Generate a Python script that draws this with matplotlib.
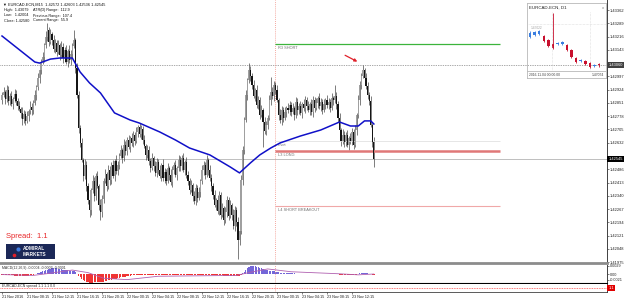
import numpy as np
import matplotlib
matplotlib.use('Agg')
import matplotlib.pyplot as plt

plt.rcParams['font.family'] = ['Liberation Sans', 'DejaVu Sans']

W, H = 625, 302


def rect(x0, y0, x1, y1):
    # pixel box -> figure fraction
    return [x0 / W, 1 - y1 / H, (x1 - x0) / W, (y1 - y0) / H]


# EURCAD-ECN M15 bars, 21 Nov 04:15 -> 23 Nov 15:45
open_ = [
    1.42867, 1.42895, 1.42911, 1.42873, 1.42922, 1.42862, 1.42889, 1.42845, 1.42873, 1.42900,
    1.42862, 1.42834, 1.42818, 1.42796, 1.42763, 1.42790, 1.42752, 1.42779, 1.42807, 1.42829,
    1.42812, 1.42851, 1.42895, 1.42939, 1.42988, 1.43032, 1.43076, 1.43104, 1.43170, 1.43214,
    1.43252, 1.43186, 1.43230, 1.43197, 1.43148, 1.43181, 1.43131, 1.43170, 1.43115, 1.43159,
    1.43098, 1.43142, 1.43076, 1.43137, 1.43087, 1.43120, 1.43164, 1.43197, 1.43043, 1.42895,
    1.42713, 1.42631, 1.42537, 1.42449, 1.42510, 1.42394, 1.42317, 1.42262, 1.42372, 1.42422,
    1.42339, 1.42449, 1.42394, 1.42290, 1.42251, 1.42323, 1.42422, 1.42460, 1.42394, 1.42482,
    1.42427, 1.42510, 1.42449, 1.42532, 1.42477, 1.42510, 1.42559, 1.42592, 1.42548, 1.42620,
    1.42587, 1.42647, 1.42609, 1.42658, 1.42631, 1.42675, 1.42642, 1.42691, 1.42719, 1.42680,
    1.42708, 1.42647, 1.42614, 1.42565, 1.42592, 1.42532, 1.42493, 1.42548, 1.42504, 1.42466,
    1.42526, 1.42482, 1.42449, 1.42510, 1.42438, 1.42471, 1.42422, 1.42493, 1.42455, 1.42416,
    1.42482, 1.42510, 1.42455, 1.42493, 1.42537, 1.42504, 1.42548, 1.42482, 1.42526, 1.42455,
    1.42422, 1.42372, 1.42400, 1.42339, 1.42312, 1.42383, 1.42328, 1.42361, 1.42422, 1.42482,
    1.42510, 1.42455, 1.42537, 1.42482, 1.42438, 1.42394, 1.42345, 1.42290, 1.42317, 1.42257,
    1.42345, 1.42235, 1.42273, 1.42207, 1.42251, 1.42317, 1.42229, 1.42290, 1.42235, 1.42174,
    1.42262, 1.42196, 1.42097, 1.42147, 1.42427, 1.42592, 1.42757, 1.42895, 1.42977, 1.43032,
    1.42999, 1.42950, 1.42889, 1.42922, 1.42840, 1.42867, 1.42785, 1.42812, 1.42746, 1.42697,
    1.42730, 1.42768, 1.42867, 1.42911, 1.42889, 1.42950, 1.42922, 1.42867, 1.42785, 1.42757,
    1.42812, 1.42768, 1.42801, 1.42823, 1.42812, 1.42840, 1.42801, 1.42823, 1.42785, 1.42856,
    1.42812, 1.42834, 1.42796, 1.42845, 1.42823, 1.42867, 1.42834, 1.42812, 1.42845, 1.42801,
    1.42867, 1.42823, 1.42851, 1.42878, 1.42834, 1.42856, 1.42812, 1.42845, 1.42867, 1.42840,
    1.42856, 1.42823, 1.42878, 1.42867, 1.42889, 1.42845, 1.42768, 1.42702, 1.42642, 1.42675,
    1.42636, 1.42675, 1.42620, 1.42658, 1.42642, 1.42691, 1.42620, 1.42702, 1.42785, 1.42867,
    1.42950, 1.42999, 1.43032, 1.42988, 1.42944, 1.42895, 1.42862, 1.42730, 1.42636]

high = [
    1.42910, 1.42936, 1.42921, 1.42952, 1.42942, 1.42904, 1.42914, 1.42883, 1.42930, 1.42920,
    1.42877, 1.42859, 1.42828, 1.42826, 1.42810, 1.42805, 1.42804, 1.42817, 1.42859, 1.42849,
    1.42866, 1.42920, 1.42949, 1.43018, 1.43052, 1.43091, 1.43129, 1.43180, 1.43244, 1.43290,
    1.43267, 1.43255, 1.43240, 1.43227, 1.43201, 1.43196, 1.43195, 1.43180, 1.43189, 1.43179,
    1.43157, 1.43167, 1.43147, 1.43167, 1.43140, 1.43179, 1.43252, 1.43207, 1.43073, 1.42915,
    1.42728, 1.42656, 1.42547, 1.42540, 1.42530, 1.42409, 1.42342, 1.42382, 1.42452, 1.42442,
    1.42464, 1.42474, 1.42404, 1.42320, 1.42343, 1.42437, 1.42485, 1.42470, 1.42512, 1.42502,
    1.42525, 1.42535, 1.42542, 1.42562, 1.42530, 1.42574, 1.42617, 1.42602, 1.42650, 1.42640,
    1.42662, 1.42672, 1.42668, 1.42688, 1.42695, 1.42690, 1.42716, 1.42729, 1.42740, 1.42728,
    1.42723, 1.42672, 1.42624, 1.42622, 1.42612, 1.42547, 1.42573, 1.42558, 1.42534, 1.42546,
    1.42541, 1.42507, 1.42520, 1.42540, 1.42491, 1.42486, 1.42518, 1.42503, 1.42485, 1.42502,
    1.42525, 1.42535, 1.42503, 1.42567, 1.42557, 1.42563, 1.42573, 1.42536, 1.42556, 1.42475,
    1.42437, 1.42425, 1.42410, 1.42369, 1.42403, 1.42398, 1.42386, 1.42432, 1.42512, 1.42530,
    1.42525, 1.42562, 1.42547, 1.42512, 1.42458, 1.42409, 1.42370, 1.42327, 1.42347, 1.42365,
    1.42360, 1.42298, 1.42283, 1.42281, 1.42337, 1.42332, 1.42315, 1.42300, 1.42265, 1.42282,
    1.42277, 1.42221, 1.42157, 1.42457, 1.42612, 1.42772, 1.42920, 1.42987, 1.43070, 1.43052,
    1.43014, 1.42975, 1.42932, 1.42952, 1.42887, 1.42882, 1.42837, 1.42822, 1.42776, 1.42750,
    1.42783, 1.42892, 1.42994, 1.42941, 1.42970, 1.42965, 1.42947, 1.42877, 1.42815, 1.42832,
    1.42827, 1.42826, 1.42833, 1.42853, 1.42860, 1.42855, 1.42848, 1.42833, 1.42886, 1.42876,
    1.42849, 1.42859, 1.42855, 1.42875, 1.42887, 1.42882, 1.42859, 1.42855, 1.42875, 1.42887,
    1.42882, 1.42876, 1.42888, 1.42908, 1.42876, 1.42871, 1.42870, 1.42877, 1.42897, 1.42876,
    1.42871, 1.42903, 1.42888, 1.42950, 1.42909, 1.42860, 1.42793, 1.42712, 1.42705, 1.42695,
    1.42690, 1.42700, 1.42668, 1.42688, 1.42711, 1.42706, 1.42727, 1.42795, 1.42897, 1.42970,
    1.43014, 1.43060, 1.43042, 1.43018, 1.42964, 1.42910, 1.42887, 1.42740, 1.42666]

low = [
    1.42847, 1.42885, 1.42843, 1.42858, 1.42837, 1.42842, 1.42835, 1.42815, 1.42858, 1.42837,
    1.42814, 1.42808, 1.42766, 1.42730, 1.42738, 1.42732, 1.42742, 1.42749, 1.42792, 1.42787,
    1.42792, 1.42841, 1.42865, 1.42924, 1.42963, 1.43012, 1.43066, 1.43074, 1.43155, 1.43194,
    1.43166, 1.43176, 1.43167, 1.43133, 1.43123, 1.43111, 1.43121, 1.43085, 1.43100, 1.43073,
    1.43078, 1.43066, 1.43046, 1.43072, 1.43062, 1.43100, 1.43154, 1.43013, 1.42880, 1.42688,
    1.42611, 1.42527, 1.42419, 1.42434, 1.42369, 1.42297, 1.42224, 1.42232, 1.42357, 1.42314,
    1.42319, 1.42384, 1.42260, 1.42207, 1.42226, 1.42303, 1.42412, 1.42364, 1.42379, 1.42402,
    1.42407, 1.42439, 1.42419, 1.42462, 1.42452, 1.42490, 1.42549, 1.42518, 1.42533, 1.42562,
    1.42567, 1.42599, 1.42579, 1.42616, 1.42606, 1.42622, 1.42632, 1.42661, 1.42665, 1.42655,
    1.42627, 1.42604, 1.42535, 1.42550, 1.42507, 1.42473, 1.42483, 1.42474, 1.42451, 1.42441,
    1.42462, 1.42439, 1.42419, 1.42423, 1.42413, 1.42402, 1.42412, 1.42425, 1.42401, 1.42391,
    1.42462, 1.42445, 1.42425, 1.42478, 1.42479, 1.42484, 1.42472, 1.42452, 1.42440, 1.42397,
    1.42352, 1.42362, 1.42309, 1.42297, 1.42287, 1.42308, 1.42318, 1.42331, 1.42407, 1.42457,
    1.42435, 1.42445, 1.42452, 1.42423, 1.42369, 1.42325, 1.42280, 1.42260, 1.42242, 1.42232,
    1.42215, 1.42225, 1.42177, 1.42192, 1.42226, 1.42209, 1.42219, 1.42205, 1.42159, 1.42149,
    1.42176, 1.41994, 1.42067, 1.42132, 1.42402, 1.42572, 1.42747, 1.42865, 1.42962, 1.42974,
    1.42930, 1.42879, 1.42859, 1.42825, 1.42815, 1.42765, 1.42775, 1.42609, 1.42682, 1.42672,
    1.42710, 1.42758, 1.42837, 1.42874, 1.42864, 1.42902, 1.42857, 1.42755, 1.42742, 1.42732,
    1.42748, 1.42758, 1.42771, 1.42797, 1.42787, 1.42781, 1.42791, 1.42755, 1.42770, 1.42787,
    1.42792, 1.42786, 1.42766, 1.42808, 1.42798, 1.42814, 1.42802, 1.42782, 1.42786, 1.42776,
    1.42803, 1.42813, 1.42821, 1.42819, 1.42809, 1.42792, 1.42802, 1.42815, 1.42825, 1.42815,
    1.42803, 1.42813, 1.42837, 1.42852, 1.42820, 1.42748, 1.42692, 1.42612, 1.42627, 1.42611,
    1.42616, 1.42610, 1.42590, 1.42627, 1.42617, 1.42600, 1.42610, 1.42672, 1.42770, 1.42842,
    1.42930, 1.42989, 1.42958, 1.42929, 1.42870, 1.42842, 1.42720, 1.42606, 1.42498]

close = [
    1.42895, 1.42911, 1.42873, 1.42922, 1.42862, 1.42889, 1.42845, 1.42873, 1.42900, 1.42862,
    1.42834, 1.42818, 1.42796, 1.42763, 1.42790, 1.42752, 1.42779, 1.42807, 1.42829, 1.42812,
    1.42851, 1.42895, 1.42939, 1.42988, 1.43032, 1.43076, 1.43104, 1.43170, 1.43214, 1.43252,
    1.43186, 1.43230, 1.43197, 1.43148, 1.43181, 1.43131, 1.43170, 1.43115, 1.43159, 1.43098,
    1.43142, 1.43076, 1.43137, 1.43087, 1.43120, 1.43164, 1.43197, 1.43043, 1.42895, 1.42713,
    1.42631, 1.42537, 1.42449, 1.42510, 1.42394, 1.42317, 1.42262, 1.42372, 1.42422, 1.42339,
    1.42449, 1.42394, 1.42290, 1.42251, 1.42323, 1.42422, 1.42460, 1.42394, 1.42482, 1.42427,
    1.42510, 1.42449, 1.42532, 1.42477, 1.42510, 1.42559, 1.42592, 1.42548, 1.42620, 1.42587,
    1.42647, 1.42609, 1.42658, 1.42631, 1.42675, 1.42642, 1.42691, 1.42719, 1.42680, 1.42708,
    1.42647, 1.42614, 1.42565, 1.42592, 1.42532, 1.42493, 1.42548, 1.42504, 1.42466, 1.42526,
    1.42482, 1.42449, 1.42510, 1.42438, 1.42471, 1.42422, 1.42493, 1.42455, 1.42416, 1.42482,
    1.42510, 1.42455, 1.42493, 1.42537, 1.42504, 1.42548, 1.42482, 1.42526, 1.42455, 1.42422,
    1.42372, 1.42400, 1.42339, 1.42312, 1.42383, 1.42328, 1.42361, 1.42422, 1.42482, 1.42510,
    1.42455, 1.42537, 1.42482, 1.42438, 1.42394, 1.42345, 1.42290, 1.42317, 1.42257, 1.42345,
    1.42235, 1.42273, 1.42207, 1.42251, 1.42317, 1.42229, 1.42290, 1.42235, 1.42174, 1.42262,
    1.42196, 1.42097, 1.42147, 1.42427, 1.42592, 1.42757, 1.42895, 1.42977, 1.43032, 1.42999,
    1.42950, 1.42889, 1.42922, 1.42840, 1.42867, 1.42785, 1.42812, 1.42746, 1.42697, 1.42730,
    1.42768, 1.42867, 1.42911, 1.42889, 1.42950, 1.42922, 1.42867, 1.42785, 1.42757, 1.42812,
    1.42768, 1.42801, 1.42823, 1.42812, 1.42840, 1.42801, 1.42823, 1.42785, 1.42856, 1.42812,
    1.42834, 1.42796, 1.42845, 1.42823, 1.42867, 1.42834, 1.42812, 1.42845, 1.42801, 1.42867,
    1.42823, 1.42851, 1.42878, 1.42834, 1.42856, 1.42812, 1.42845, 1.42867, 1.42840, 1.42856,
    1.42823, 1.42878, 1.42867, 1.42889, 1.42845, 1.42768, 1.42702, 1.42642, 1.42675, 1.42636,
    1.42675, 1.42620, 1.42658, 1.42642, 1.42691, 1.42620, 1.42702, 1.42785, 1.42867, 1.42950,
    1.42999, 1.43032, 1.42988, 1.42944, 1.42895, 1.42862, 1.42730, 1.42636, 1.42545]

# moving average (read at a few bars)
ma_bar = [0, 21, 24, 31, 37, 45, 50, 56, 63, 72, 82, 88, 101, 111, 120, 133, 146, 152,
          159, 165, 172, 178, 191, 204, 216, 223, 228, 232, 236, 238]
ma_val = [1.43219, 1.43076, 1.43070, 1.43092, 1.43098, 1.43098, 1.43021, 1.42961, 1.42906,
          1.42796, 1.42757, 1.42740, 1.42691, 1.42647, 1.42603, 1.42565, 1.42499, 1.42466,
          1.42521, 1.42565, 1.42603, 1.42631, 1.42669, 1.42702, 1.42746, 1.42724, 1.42724,
          1.42752, 1.42752, 1.42735]

# MACD histogram, units of 0.0001
macd_hist = [
    -3, -3, -4, -4, -4, -5, -5, -5, -6, -6, -6, -7, -7, -7, -7, -7, -6, -6, -5, -4, -3,
    -1, 1, 3, 5, 8, 10, 12, 14, 16, 18,
    19, 20, 21, 20, 20, 19, 18, 17, 16, 15, 14, 13, 12, 11, 11,
    10, 6, 0, -6, -12,
    -18, -22, -25, -28, -30, -32, -32, -31, -30, -30, -29, -30,
    -30, -29, -27, -26, -25, -23, -22, -20, -19, -18, -16, -15, -13,
    -12, -11, -10, -9, -8, -7, -6, -5, -4, -4, -3, -3, -2, -2, -2, -3, -3, -3, -4, -4,
    -4, -4, -5, -5, -5,
    -5, -5, -5, -5, -5, -5, -5, -4, -4, -4,
    -4, -4, -4, -3, -3, -3, -3, -3, -3, -4,
    -4, -4, -4, -5, -5, -5, -4, -4, -4, -4,
    -3, -3, -3, -3, -4, -4, -4, -5, -5, -5,
    -5, -6, -6, -6, -6, -7, -7, -7, -7, -7,
    -8, -8,
    -4, 2, 8, 14, 20, 24, 27, 28,
    28, 27, 26, 24, 22, 20, 18, 16, 14, 13,
    12, 11, 10, 9, 8, 7, 6, 5, 4, 4,
    3, 3, 3, 2, 2, 2, 2, 1, 1, 1,
    1, 1, 1, 1, 1, 1, 1, 1, 1, 1,
    1, 1, 1, 0, 0, 0, 0, 0, 0, 0,
    1, 1, 1, 1,
    -1, -2, -3, -4, -4, -5, -5, -5, -5, -5, -4, -4,
    -2, 0, 2, 3, 4, 4, 3, 2, 1,
    -1, -3, -5]
sig_bar = [0, 20, 30, 45, 55, 65, 80, 100, 150, 158, 170, 185, 215, 228, 238]
sig_val = [-2, -5, 2, 14, 5, -15, -20, -8, -5, 5, 18, 8, 1, -3, 0]

# D1 inset candles
d1_open = [1.4675, 1.4705, 1.4720, 1.4690, 1.4630, 1.4570, 1.4570, 1.4570,
           1.4555, 1.4480, 1.4360, 1.4315, 1.4315, 1.4285, 1.4240, 1.4270]
d1_high = [1.4765, 1.4765, 1.4780, 1.4705, 1.4645, 1.5035, 1.4600, 1.4615,
           1.4570, 1.4495, 1.4375, 1.4345, 1.4330, 1.4300, 1.4270, 1.4285]
d1_low = [1.4660, 1.4690, 1.4705, 1.4600, 1.4525, 1.4495, 1.4555, 1.4555,
          1.4465, 1.4360, 1.4285, 1.4300, 1.4255, 1.4210, 1.4225, 1.4220]
d1_close = [1.4735, 1.4750, 1.4765, 1.4615, 1.4540, 1.4510, 1.4585, 1.4600,
            1.4480, 1.4375, 1.4300, 1.4330, 1.4270, 1.4225, 1.4255, 1.4250]

# levels drawn on the chart
r3_short = 1.43175
day_line = 1.43060
pivot = 1.42642
l3_long = 1.42587
bid = 1.42545
l4_breakout = 1.42284
level_start, level_end = 175, 319
day_sep = 175
spread = 1.1

price_ticks = [1.41975, 1.42048, 1.42121, 1.42194, 1.42267, 1.42340, 1.42413, 1.42486,
               1.42632, 1.42705, 1.42778, 1.42851, 1.42924, 1.42997, 1.43143, 1.43216,
               1.43289, 1.43362]
date_bars = [0, 16, 32, 48, 64, 80, 96, 112, 128, 144, 160, 176, 192, 208, 224]
date_labels = ['21 Nov 2016', '21 Nov 08:15', '21 Nov 12:15', '21 Nov 16:15', '21 Nov 20:15',
               '22 Nov 00:15', '22 Nov 04:15', '22 Nov 08:15', '22 Nov 12:15', '22 Nov 16:15',
               '22 Nov 20:15', '23 Nov 00:15', '23 Nov 04:15', '23 Nov 08:15', '23 Nov 12:15']

o = np.array(open_)
c = np.array(close)
idx = np.arange(len(c))
XLIM = (-1.28, 387.2)

fig = plt.figure(figsize=(6.25, 3.02), dpi=100)
fig.patch.set_facecolor('white')

# ---- main price window
ax = fig.add_axes(rect(0, 0, 607, 263))
ax.set_xlim(*XLIM)
ax.set_ylim(1.419705, 1.43417)
for s in ['top', 'left']:
    ax.spines[s].set_visible(False)
ax.spines['bottom'].set_color('#8c8c8c')
ax.spines['bottom'].set_linewidth(2)
ax.spines['right'].set_color('#404040')
ax.spines['right'].set_linewidth(0.7)
ax.tick_params(axis='x', bottom=False, labelbottom=False)
ax.yaxis.tick_right()
ax.set_yticks(price_ticks)
ax.set_yticklabels(['%.5f' % p for p in price_ticks])
ax.tick_params(axis='y', labelsize=2.9, length=1.5, width=0.4, pad=0.8, colors='#202020')

bull = c >= o
ax.vlines(idx, low, high, color='#4a4a4a', lw=0.5, zorder=2)
ax.bar(idx[bull], (c - o)[bull], bottom=o[bull], width=0.75, color='#a0a0a0', zorder=3)
ax.bar(idx[~bull], (o - c)[~bull], bottom=c[~bull], width=0.75, color='#151515', zorder=3)
ax.plot(ma_bar, ma_val, color='#1010c8', lw=1.1, zorder=4)

ax.axhline(day_line, color='#555555', lw=0.5, ls=(0, (1, 1.5)), zorder=1)
ax.axhline(bid, color='#b4b4b4', lw=0.6, zorder=1)
ax.axvline(day_sep, color='#f08c80', lw=0.6, ls=(0, (1, 1.5)), zorder=1)
ax.hlines(r3_short, level_start, level_end, color='#3cb43c', lw=0.9)
ax.hlines(pivot, level_start, level_end, color='#dcdcdc', lw=0.5)
ax.hlines(l3_long, level_start, level_end, color='#e07878', lw=1.8)
ax.hlines(l4_breakout, level_start, level_end, color='#f0a8a8', lw=0.8)
for name, lv in [('R3 SHORT', r3_short), ('Pivot', pivot), ('L3 LONG', l3_long),
                 ('L4 SHORT BREAKOUT', l4_breakout)]:
    ax.annotate(name, (level_start, lv), xytext=(1.5, -1.2), textcoords='offset points',
                va='top', ha='left', fontsize=2.8, color='#707070')

ax.annotate('', xy=(229, 1.43071), xytext=(218, 1.43120),
            arrowprops=dict(arrowstyle='-|>', color='#e0202a', lw=0.9, mutation_scale=4))

ytr = ax.get_yaxis_transform()
ax.text(1.002, bid, '%.5f' % bid, transform=ytr, fontsize=2.9, color='white',
        va='center', ha='left', bbox=dict(boxstyle='square,pad=0.25', fc='black', ec='none'))
ax.text(1.002, day_line, '%.5f' % day_line, transform=ytr, fontsize=2.9, color='white',
        va='center', ha='left', bbox=dict(boxstyle='square,pad=0.25', fc='#404040', ec='none'))

fig.text(3 / W, 1 - 5 / H, '\u25bc EURCAD-ECN,M15  1.42572 1.42603 1.42536 1.42545',
         fontsize=2.8, va='center', color='#101010')
for k, (a, b) in enumerate([('High:  1.43079', 'ATR(D) Range:  112.9'),
                            ('Low:   1.42004', 'Previous Range:  107.4'),
                            ('Close: 1.42580', 'Current Range:  55.9')]):
    yy = 1 - (10.5 + 5 * k) / H
    fig.text(4 / W, yy, a, fontsize=2.7, va='center', color='#101010')
    fig.text(33 / W, yy, b, fontsize=2.7, va='center', color='#101010')

fig.text(6 / W, 1 - 236.5 / H, 'Spread:  1.1', fontsize=5.5, color='#e8282a', va='center')

# logo
lg = fig.add_axes(rect(6, 244, 55, 259))
lg.set_facecolor('#1b2857')
lg.set_xlim(0, 49)
lg.set_ylim(15, 0)
lg.set_xticks([])
lg.set_yticks([])
for s in lg.spines.values():
    s.set_visible(False)
lg.scatter([12], [5], s=9, color='#3d7be0', lw=0)
lg.scatter([8.5], [10.5], s=7, color='#e0202a', lw=0)
lg.text(17, 4.8, 'ADMIRAL', fontsize=3.4, color='white', weight='bold', va='center')
lg.text(17, 10.6, 'MARKETS', fontsize=3.4, color='white', weight='bold', va='center')

# ---- MACD window
am = fig.add_axes(rect(0, 265, 607, 283))
am.set_xlim(*XLIM)
am.set_ylim(-0.0032, 0.0032)
hist = np.array(macd_hist) * 1e-4
am.bar(idx, hist, width=0.8, color=np.where(hist >= 0, '#7466d8', '#f03434'))
am.plot(sig_bar, np.array(sig_val) * 1e-4, color='#b060b0', lw=0.6)
am.axvline(day_sep, color='#f08c80', lw=0.6, ls=(0, (1, 1.5)))
for s in ['top', 'left']:
    am.spines[s].set_visible(False)
am.spines['bottom'].set_color('black')
am.spines['bottom'].set_linewidth(0.8)
am.spines['right'].set_color('#404040')
am.spines['right'].set_linewidth(0.7)
am.tick_params(axis='x', bottom=False, labelbottom=False)
am.yaxis.tick_right()
am.set_yticks([0.0029, 0.0, -0.0021])
am.set_yticklabels(['0.0029', '0.00', '-0.0021'])
am.tick_params(axis='y', labelsize=2.7, length=1.5, width=0.4, pad=0.8, colors='#202020')
am.text(0.004, 0.93, 'MACD(12,26,9) -0.0004 -0.0003 -0.0001', transform=am.transAxes,
        fontsize=2.5, va='top', color='#303030')

# ---- spread window
asp = fig.add_axes(rect(0, 284, 607, 292))
asp.set_xlim(*XLIM)
asp.set_ylim(0.2, 2.0)
asp.axhline(spread, color='#ff4a4a', lw=0.6, ls=(0, (1, 1)))
asp.axvline(day_sep, color='#f08c80', lw=0.6, ls=(0, (1, 1.5)))
for s in ['top', 'left']:
    asp.spines[s].set_visible(False)
asp.spines['bottom'].set_color('#404040')
asp.spines['bottom'].set_linewidth(0.6)
asp.spines['right'].set_color('#404040')
asp.spines['right'].set_linewidth(0.7)
asp.set_yticks([])
asp.text(0.004, 0.95, 'EURCAD-ECN spread 1.1 1.1 0.0', transform=asp.transAxes,
         fontsize=2.5, va='top', color='#303030')
asp.text(1.002, spread, '1.1', transform=asp.get_yaxis_transform(), fontsize=2.9, color='white',
         va='center', ha='left', bbox=dict(boxstyle='square,pad=0.25', fc='#e00000', ec='none'))
asp.set_xticks(date_bars)
asp.set_xticklabels(date_labels, ha='left')
asp.tick_params(axis='x', labelsize=2.7, length=1.5, width=0.4, pad=1, colors='#202020')

# ---- D1 inset
fr = fig.add_axes(rect(527, 3, 606, 78))
fr.set_facecolor('none')
fr.set_xticks([])
fr.set_yticks([])
for s in fr.spines.values():
    s.set_color('#b8b8b8')
    s.set_linewidth(0.6)
fr.axhline(0.093, color='#b8b8b8', lw=0.6)
fr.text(0.03, 0.935, 'EURCAD-ECN, D1', transform=fr.transAxes, fontsize=3.2,
        va='center', color='#202020')
fr.text(0.955, 0.935, 'x', transform=fr.transAxes, fontsize=3.2, va='center', color='#808080')
fr.text(0.03, 0.045, '2016.11.04 00:00:00', transform=fr.transAxes, fontsize=2.4,
        va='center', color='#404040')
fr.text(0.97, 0.045, '1.47074', transform=fr.transAxes, fontsize=2.4,
        va='center', ha='right', color='#404040')

ad = fig.add_axes(rect(527, 12, 606, 71))
ad.set_facecolor('none')
ad.set_xlim(-0.65, 16.5)
ad.set_ylim(1.4165, 1.5050)
ad.axis('off')
dk = np.arange(len(d1_close))
do = np.array(d1_open)
dc = np.array(d1_close)
dcol = np.where(dc >= do, '#3a7ee0', '#c8102e')
ad.axvline(4.8, color='#c8c8c8', lw=0.4, ls=(0, (1, 1.5)))
ad.axvline(13.1, color='#c8c8c8', lw=0.4, ls=(0, (1, 1.5)))
ad.axhline(1.4870, color='#c8c8c8', lw=0.4, ls=(0, (1, 1.5)))
ad.vlines(dk, d1_low, d1_high, color=dcol, lw=0.6)
ad.bar(dk, np.abs(dc - do), bottom=np.minimum(dc, do), width=0.55, color=dcol)
ad.text(0.2, 1.4795, '1.47022', fontsize=2.3, color='#a0a0a0')

fig.savefig('out.png', dpi=100)
